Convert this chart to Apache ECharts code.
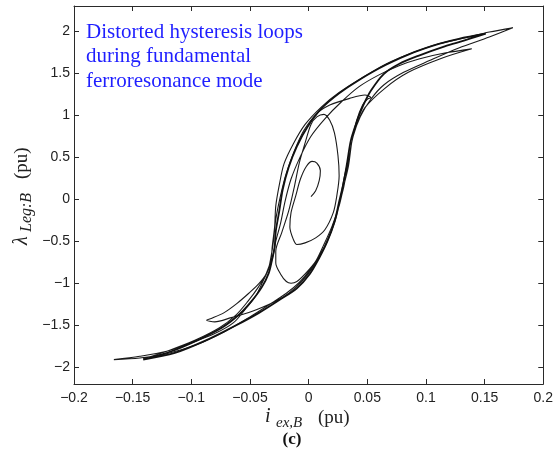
<!DOCTYPE html>
<html>
<head>
<meta charset="utf-8">
<script src="https://cdn.jsdelivr.net/npm/echarts@6/dist/echarts.min.js"></script>
<style>
html,body{margin:0;padding:0;background:#fff;}
#chart{width:556px;height:458px;}
</style>
</head>
<body>
<div id="chart"></div>
<script>
// Tick values
const xTickValues = [-0.2, -0.15, -0.1, -0.05, 0, 0.05, 0.1, 0.15, 0.2];
const yTickValues = [-2, -1.5, -1, -0.5, 0, 0.5, 1, 1.5, 2];

// Trajectory segments [i_ex,B, lambda]
const seg1 = [[0.002,0.03],[0.006,0.10],[0.009,0.22],[0.010,0.34],[0.007,0.43],[0.003,0.45],[-0.002,0.39],[-0.007,0.24],[-0.011,0.04],[-0.015,-0.16],[-0.016,-0.33],[-0.013,-0.48],[-0.010,-0.54],[-0.003,-0.52],[0.006,-0.46],[0.014,-0.36],[0.021,-0.16],[0.024,0.04],[0.026,0.28],[0.025,0.52],[0.022,0.79],[0.018,0.94],[0.013,1.01]];
const seg2 = [[0.007,0.98],[0.002,0.89],[-0.003,0.67],[-0.008,0.43],[-0.012,0.16],[-0.017,-0.14],[-0.023,-0.40],[-0.028,-0.62],[-0.028,-0.76],[-0.024,-0.89],[-0.019,-0.98],[-0.015,-1.00],[-0.010,-0.98],[-0.003,-0.89],[0.006,-0.74],[0.013,-0.54],[0.020,-0.32],[0.026,-0.08],[0.030,0.16],[0.034,0.40],[0.037,0.70],[0.041,0.94],[0.046,1.12],[0.050,1.19],[0.053,1.21],[0.048,1.24],[0.035,1.20],[0.018,1.12]];
const seg3 = [[0.007,1.02],[-0.004,0.82],[-0.012,0.58],[-0.019,0.31],[-0.024,0.04],[-0.028,-0.24],[-0.030,-0.50],[-0.032,-0.68],[-0.035,-0.86],[-0.042,-1.00],[-0.051,-1.12],[-0.061,-1.24],[-0.072,-1.35],[-0.083,-1.42],[-0.087,-1.44],[-0.080,-1.46],[-0.066,-1.41],[-0.051,-1.35],[-0.035,-1.26],[-0.022,-1.17],[-0.011,-1.05],[-0.001,-0.90],[0.007,-0.74],[0.014,-0.56],[0.020,-0.36],[0.025,-0.12],[0.030,0.15],[0.034,0.46],[0.037,0.70],[0.041,0.89],[0.048,1.09],[0.065,1.32],[0.085,1.51],[0.114,1.68],[0.139,1.79]];
const seg4 = [[0.116,1.74],[0.094,1.67],[0.077,1.59],[0.060,1.48],[0.043,1.34],[0.028,1.16],[0.014,0.96],[0.002,0.75],[-0.007,0.51],[-0.015,0.24],[-0.020,-0.02],[-0.024,-0.29],[-0.028,-0.50],[-0.030,-0.65],[-0.033,-0.80],[-0.039,-0.98],[-0.045,-1.15],[-0.054,-1.31],[-0.064,-1.47],[-0.080,-1.60],[-0.102,-1.72],[-0.121,-1.81],[-0.144,-1.87],[-0.166,-1.91],[-0.144,-1.89],[-0.121,-1.84],[-0.097,-1.74],[-0.072,-1.58],[-0.051,-1.41],[-0.033,-1.25],[-0.019,-1.12],[-0.008,-0.99],[0.002,-0.83],[0.010,-0.66],[0.017,-0.46],[0.023,-0.24],[0.027,0.00],[0.030,0.24],[0.034,0.48],[0.038,0.75],[0.044,0.98],[0.053,1.19],[0.064,1.36],[0.081,1.51],[0.103,1.65],[0.128,1.80],[0.154,1.93],[0.174,2.04]];
const seg5 = [[0.154,1.99],[0.133,1.92],[0.111,1.85],[0.088,1.74],[0.066,1.61],[0.045,1.44],[0.026,1.27],[0.011,1.10],[-0.003,0.89],[-0.013,0.66],[-0.021,0.42],[-0.025,0.17],[-0.028,-0.08],[-0.029,-0.33],[-0.031,-0.56],[-0.032,-0.71],[-0.036,-0.88],[-0.043,-1.05],[-0.052,-1.22],[-0.062,-1.38],[-0.076,-1.53],[-0.097,-1.68],[-0.119,-1.80],[-0.141,-1.90]];
const steadyAsc = [[-0.141,-1.91],[-0.114,-1.83],[-0.089,-1.69],[-0.063,-1.51],[-0.042,-1.35],[-0.025,-1.20],[-0.010,-1.06],[0.001,-0.89],[0.009,-0.70],[0.016,-0.50],[0.022,-0.27],[0.026,-0.03],[0.030,0.21],[0.033,0.45],[0.036,0.70],[0.041,0.92],[0.046,1.10],[0.053,1.29],[0.064,1.49],[0.077,1.61],[0.094,1.71],[0.116,1.82],[0.133,1.89],[0.151,1.97]];
const steadyDesc = [[0.128,1.91],[0.111,1.85],[0.090,1.75],[0.066,1.60],[0.043,1.42],[0.026,1.26],[0.011,1.08],[-0.001,0.86],[-0.010,0.63],[-0.017,0.38],[-0.022,0.12],[-0.025,-0.14],[-0.028,-0.38],[-0.029,-0.57],[-0.031,-0.71],[-0.034,-0.88],[-0.040,-1.05],[-0.049,-1.22],[-0.059,-1.37],[-0.074,-1.53],[-0.095,-1.68],[-0.117,-1.81],[-0.141,-1.91]];

const transient = seg1.concat(seg2, seg3, seg4, seg5);
const steady = steadyAsc.concat(steadyDesc);

const fmt = v => String(Math.round(v * 100) / 100).replace('-', '\u2212');
const axisColor = '#2a2a2a';
const labelStyle = {fontSize: 14, fontFamily: 'Liberation Sans', color: '#222'};

function xAx(pos, labels) {
  return {
    type: 'value', min: -0.2, max: 0.2, position: pos,
    axisLine: {show: true, onZero: false, lineStyle: {color: axisColor, width: 1}},
    axisTick: {show: true, inside: true, length: 5, customValues: xTickValues, lineStyle: {color: axisColor}},
    axisLabel: Object.assign({show: labels, customValues: xTickValues, formatter: fmt, margin: 7}, labelStyle),
    splitLine: {show: false}
  };
}
function yAx(pos, labels) {
  return {
    type: 'value', min: -2.2, max: 2.3, position: pos,
    axisLine: {show: true, onZero: false, lineStyle: {color: axisColor, width: 1}},
    axisTick: {show: true, inside: true, length: 5, customValues: yTickValues, lineStyle: {color: axisColor}},
    axisLabel: Object.assign({show: labels, customValues: yTickValues, formatter: fmt, margin: 4}, labelStyle),
    splitLine: {show: false}
  };
}

const chart = echarts.init(document.getElementById('chart'), null, {renderer: 'canvas'});
chart.setOption({
  animation: false,
  backgroundColor: '#fff',
  grid: {left: 74, right: 12, top: 6, bottom: 74, containLabel: false},
  xAxis: [xAx('bottom', true), xAx('top', false)],
  yAxis: [yAx('left', true), yAx('right', false)],
  series: [
    {type: 'line', data: transient, symbol: 'none', smooth: 0.3,
     lineStyle: {color: '#1a1a1a', width: 1.1}},
    {type: 'line', data: steady, symbol: 'none', smooth: 0.3,
     lineStyle: {color: '#111', width: 1.8}}
  ],
  graphic: [
    {type: 'text', x: 86, y: 20, style: {text: 'Distorted hysteresis loops\nduring fundamental\nferroresonance mode',
      fontSize: 21, fontFamily: 'Liberation Serif', fill: '#1f1fff', lineHeight: 24.5, textVerticalAlign: 'top'}},
    {type: 'text', x: 265, y: 417, style: {text: 'i', fontSize: 20, fontStyle: 'italic', fontFamily: 'Liberation Serif', fill: '#222', textVerticalAlign: 'middle'}},
    {type: 'text', x: 276, y: 423, style: {text: 'ex,B', fontSize: 15, fontStyle: 'italic', fontFamily: 'Liberation Serif', fill: '#222', textVerticalAlign: 'middle'}},
    {type: 'text', x: 318, y: 418, style: {text: '(pu)', fontSize: 19, fontFamily: 'Liberation Serif', fill: '#222', textVerticalAlign: 'middle'}},
    {type: 'text', x: 292, y: 440, style: {text: '(c)', fontSize: 17, fontWeight: 'bold', fontFamily: 'Liberation Serif', fill: '#111', textAlign: 'center', textVerticalAlign: 'middle'}},
    {type: 'group', x: 22, y: 195, rotation: Math.PI / 2, children: [
      {type: 'text', x: -50, y: 0, style: {text: '\u03bb', fontSize: 20, fontStyle: 'italic', fontFamily: 'Liberation Serif', fill: '#222', textVerticalAlign: 'middle'}},
      {type: 'text', x: -37, y: 5, style: {text: 'Leg:B', fontSize: 16, fontStyle: 'italic', fontFamily: 'Liberation Serif', fill: '#222', textVerticalAlign: 'middle'}},
      {type: 'text', x: 16, y: 0, style: {text: '(pu)', fontSize: 19, fontFamily: 'Liberation Serif', fill: '#222', textVerticalAlign: 'middle'}}
    ]}
  ]
});
</script>
</body>
</html>
